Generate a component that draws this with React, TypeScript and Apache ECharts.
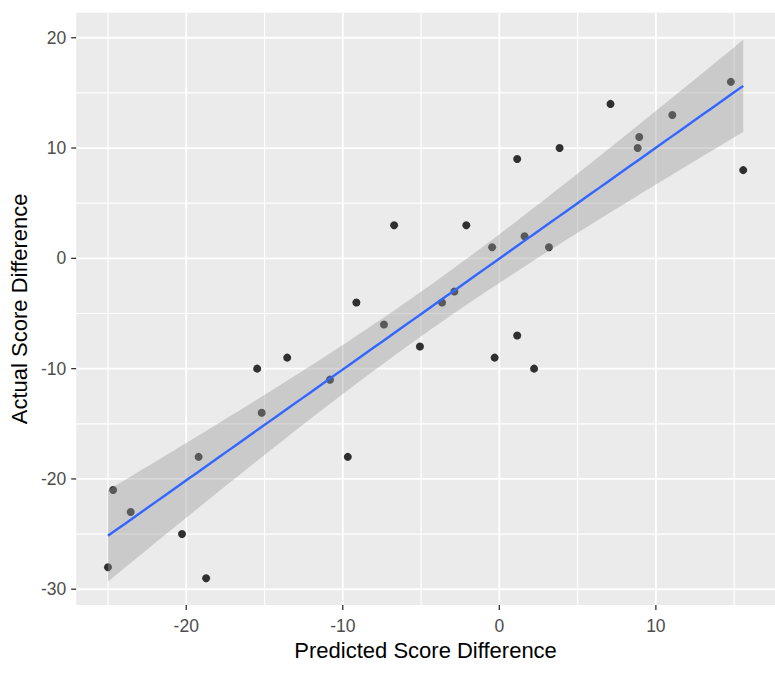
import React, { useEffect, useRef } from "react";
import * as echarts from "echarts";

// Points (predicted, actual)
const predicted = [
  -25.0, -24.67, -23.55, -20.27, -19.21, -18.73, -15.47, -15.18, -13.55, -10.82,
  -9.68, -9.13, -7.37, -6.72, -5.07, -3.66, -2.87, -2.11, -0.46, -0.3,
  1.14, 1.14, 1.61, 2.22, 3.17, 3.85, 7.1, 8.84, 8.94, 11.05, 14.79, 15.58,
];
const actual = [
  -28, -21, -23, -25, -18, -29, -10, -14, -9, -11,
  -18, -4, -6, 3, -8, -4, -3, 3, 1, -9,
  9, -7, 2, -10, 1, 10, 14, 10, 11, 13, 16, 8,
];

const xTicks = [-20, -10, 0, 10];
const yTicks = [-30, -20, -10, 0, 10, 20];
const xMinor = [-25, -15, -5, 5, 15];
const yMinor = [-25, -15, -5, 5, 15];

const X_MIN = -27.03;
const X_MAX = 17.61;
const Y_MIN = -31.43;
const Y_MAX = 22.27;

// Linear model fit with 95% confidence band (as geom_smooth(method = "lm"))
function lmFit(xs: number[], ys: number[], nOut = 80) {
  const n = xs.length;
  const mx = xs.reduce((a, b) => a + b, 0) / n;
  const my = ys.reduce((a, b) => a + b, 0) / n;
  let sxx = 0;
  let sxy = 0;
  for (let i = 0; i < n; i++) {
    sxx += (xs[i] - mx) ** 2;
    sxy += (xs[i] - mx) * (ys[i] - my);
  }
  const b = sxy / sxx;
  const a = my - b * mx;
  let sse = 0;
  for (let i = 0; i < n; i++) sse += (ys[i] - (a + b * xs[i])) ** 2;
  const s = Math.sqrt(sse / (n - 2));
  const t = 2.0423; // qt(0.975, 30)
  const lo = Math.min(...xs);
  const hi = Math.max(...xs);
  const out: { x: number; y: number; lo: number; hi: number }[] = [];
  for (let i = 0; i < nOut; i++) {
    const x = lo + ((hi - lo) * i) / (nOut - 1);
    const y = a + b * x;
    const se = s * Math.sqrt(1 / n + (x - mx) ** 2 / sxx);
    out.push({ x, y, lo: y - t * se, hi: y + t * se });
  }
  return out;
}

export default function App() {
  const ref = useRef<HTMLDivElement>(null);

  useEffect(() => {
    if (!ref.current) return;
    const chart = echarts.init(ref.current, undefined, { renderer: "svg" });
    const fit = lmFit(predicted, actual);

    // [kind, value, width]: kind 0 = vertical grid, 1 = horizontal grid, 2 = x tick, 3 = y tick
    const gridItems: number[][] = [];
    xMinor.forEach((v) => gridItems.push([0, v, 1.2]));
    yMinor.forEach((v) => gridItems.push([1, v, 1.2]));
    xTicks.forEach((v) => gridItems.push([0, v, 1.8]));
    yTicks.forEach((v) => gridItems.push([1, v, 1.8]));
    xTicks.forEach((v) => gridItems.push([2, v, 1.3]));
    yTicks.forEach((v) => gridItems.push([3, v, 1.3]));

    const font = "Liberation Sans, Arial, sans-serif";

    chart.setOption({
      animation: false,
      backgroundColor: "#FFFFFF",
      grid: {
        left: 72.7,
        top: 12.7,
        width: 704,
        height: 592.3,
        show: true,
        backgroundColor: "#EBEBEB",
        borderWidth: 0,
        containLabel: false,
      },
      xAxis: {
        type: "value",
        min: X_MIN,
        max: X_MAX,
        name: "Predicted Score Difference",
        nameLocation: "middle",
        nameGap: 34,
        nameTextStyle: { color: "#000000", fontSize: 22, fontFamily: font },
        axisLine: { show: false },
        axisTick: { show: false },
        axisLabel: {
          color: "#4D4D4D",
          fontSize: 17.5,
          fontFamily: font,
          margin: 12,
          customValues: xTicks,
        },
        splitLine: { show: false },
      },
      yAxis: {
        type: "value",
        min: Y_MIN,
        max: Y_MAX,
        name: "Actual Score Difference",
        nameLocation: "middle",
        nameGap: 40,
        nameRotate: 90,
        nameTextStyle: { color: "#000000", fontSize: 22, fontFamily: font },
        axisLine: { show: false },
        axisTick: { show: false },
        axisLabel: {
          color: "#4D4D4D",
          fontSize: 17.5,
          fontFamily: font,
          margin: 10,
          customValues: yTicks,
        },
        splitLine: { show: false },
      },
      series: [
        {
          type: "custom",
          z: 1,
          silent: true,
          clip: false,
          data: gridItems,
          renderItem: (_p: any, api: any) => {
            const k = api.value(0);
            const v = api.value(1);
            const w = api.value(2);
            let p1: number[];
            let p2: number[];
            let stroke = "#FFFFFF";
            if (k === 0) {
              p1 = api.coord([v, Y_MIN]);
              p2 = api.coord([v, Y_MAX]);
            } else if (k === 1) {
              p1 = api.coord([X_MIN, v]);
              p2 = api.coord([X_MAX, v]);
            } else if (k === 2) {
              p1 = api.coord([v, Y_MIN]);
              p2 = [p1[0], p1[1] + 5];
              stroke = "#333333";
            } else {
              p1 = api.coord([X_MIN, v]);
              p2 = [p1[0] - 5, p1[1]];
              stroke = "#333333";
            }
            return {
              type: "line",
              shape: { x1: p1[0], y1: p1[1], x2: p2[0], y2: p2[1] },
              style: { stroke, lineWidth: w },
            };
          },
        },
        {
          type: "scatter",
          z: 3,
          symbol: "circle",
          symbolSize: 8,
          itemStyle: { color: "#000000" },
          data: predicted.map((x, i) => [x, actual[i]]),
        },
        {
          type: "custom",
          z: 4,
          silent: true,
          data: [[0, 0]],
          renderItem: (_p: any, api: any) => {
            const upper = fit.map((p) => api.coord([p.x, p.hi]));
            const lower = fit.map((p) => api.coord([p.x, p.lo])).reverse();
            return {
              type: "polygon",
              shape: { points: upper.concat(lower) },
              style: { fill: "rgba(153,153,153,0.4)" },
            };
          },
        },
        {
          type: "line",
          z: 5,
          showSymbol: false,
          silent: true,
          lineStyle: { color: "#3366FF", width: 2.4 },
          data: fit.map((p) => [p.x, p.y]),
        },
      ],
    });

    return () => chart.dispose();
  }, []);

  return (
    <div
      ref={ref}
      style={{ position: "absolute", left: 0, top: 0, width: 775, height: 676 }}
    />
  );
}
